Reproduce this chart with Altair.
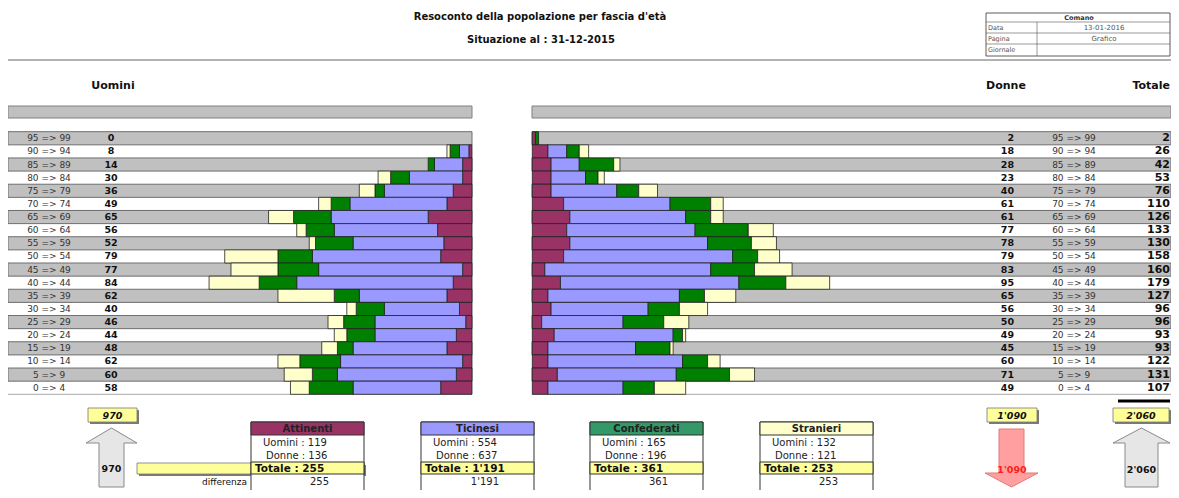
import altair as alt
import pandas as pd

FONT = "DejaVu Sans"

# ---------------- data ----------------
ages = ["95 => 99", "90 => 94", "85 => 89", "80 => 84", "75 => 79", "70 => 74",
        "65 => 69", "60 => 64", "55 => 59", "50 => 54", "45 => 49", "40 => 44",
        "35 => 39", "30 => 34", "25 => 29", "20 => 24", "15 => 19", "10 => 14",
        "5 => 9", "0 => 4"]
categories = ["Attinenti", "Ticinesi", "Confederati", "Stranieri"]

men_attinenti = [0, 1, 3, 3, 6, 8, 14, 11, 9, 10, 3, 6, 8, 4, 2, 5, 8, 3, 5, 10]
men_ticinesi = [0, 3, 9, 17, 22, 31, 31, 33, 29, 41, 46, 50, 28, 24, 29, 26, 30, 39, 38, 28]
men_confederati = [0, 3, 2, 6, 3, 6, 12, 9, 12, 11, 13, 12, 8, 9, 10, 9, 5, 13, 8, 14]
men_stranieri = [0, 1, 0, 4, 5, 4, 8, 3, 2, 17, 15, 16, 18, 3, 5, 4, 5, 7, 9, 6]

women_attinenti = [1, 5, 6, 6, 6, 10, 12, 11, 12, 10, 4, 9, 5, 6, 3, 7, 5, 5, 8, 5]
women_ticinesi = [0, 6, 9, 11, 21, 34, 37, 41, 44, 54, 53, 57, 42, 31, 26, 38, 28, 43, 38, 24]
women_confederati = [1, 4, 11, 4, 7, 13, 8, 17, 14, 8, 14, 15, 8, 10, 13, 3, 11, 8, 17, 10]
women_stranieri = [0, 3, 2, 2, 6, 4, 4, 8, 8, 7, 12, 14, 10, 9, 8, 1, 1, 4, 8, 10]

title = "Resoconto della popolazione per fascia d'età"
subtitle = "Situazione al : 31-12-2015"

# ---------------- styles ----------------
cat_colors = ["#993366", "#9999FF", "#008000", "#FFFFCC"]
header_colors = ["#993366", "#9999FF", "#339966", "#FFFFCC"]
YELLOW = "#FFFF99"

W, H = 1163, 482
OX, OY = 8, 8
N = len(ages)
ROW_TOP, ROW_BOTTOM = 131.7, 394.3
PX_PER_PERSON = 3.13
MEN_AXIS, WOMEN_AXIS = 472.0, 532.3


def fmt(n):
    return f"{n:,}".replace(",", "'")


def sx():
    return alt.Scale(domain=[OX, OX + W], range=[0, W], nice=False, zero=False)


def sy():
    return alt.Scale(domain=[OY, OY + H], range=[0, H], nice=False, zero=False)


def srow():
    return alt.Scale(domain=[0, N], range=[ROW_TOP - OY, ROW_BOTTOM - OY], nice=False, zero=False)


def smen():
    return alt.Scale(domain=[0, 100], range=[MEN_AXIS - OX, MEN_AXIS - OX - 100 * PX_PER_PERSON],
                     nice=False, zero=False)


def swomen():
    return alt.Scale(domain=[0, 100], range=[WOMEN_AXIS - OX, WOMEN_AXIS - OX + 100 * PX_PER_PERSON],
                     nice=False, zero=False)


def rects(items, **mk):
    df = pd.DataFrame(items, columns=["x", "x2", "y", "y2"])
    return alt.Chart(df).mark_rect(**mk).encode(
        x=alt.X("x:Q", scale=sx(), axis=None), x2="x2:Q",
        y=alt.Y("y:Q", scale=sy(), axis=None), y2="y2:Q")


def hrules(items, **mk):
    df = pd.DataFrame(items, columns=["x", "x2", "y"])
    return alt.Chart(df).mark_rule(**mk).encode(
        x=alt.X("x:Q", scale=sx(), axis=None), x2="x2:Q",
        y=alt.Y("y:Q", scale=sy(), axis=None))


def vrules(items, **mk):
    df = pd.DataFrame(items, columns=["x", "y", "y2"])
    return alt.Chart(df).mark_rule(**mk).encode(
        x=alt.X("x:Q", scale=sx(), axis=None),
        y=alt.Y("y:Q", scale=sy(), axis=None), y2="y2:Q")


def texts(items, **mk):
    mk.setdefault("font", FONT)
    mk.setdefault("color", "#111")
    df = pd.DataFrame(items, columns=["x", "y", "t"])
    return alt.Chart(df).mark_text(**mk).encode(
        x=alt.X("x:Q", scale=sx(), axis=None),
        y=alt.Y("y:Q", scale=sy(), axis=None),
        text="t:N")


def row_texts(values, xpos, **mk):
    mk.setdefault("font", FONT)
    mk.setdefault("color", "#111")
    df = pd.DataFrame({"r": [i + 0.5 for i in range(N)], "t": [str(v) for v in values], "x": xpos})
    return alt.Chart(df).mark_text(**mk).encode(
        x=alt.X("x:Q", scale=sx(), axis=None),
        y=alt.Y("r:Q", scale=srow(), axis=None),
        text="t:N")


def polygon(pts, color, width=1):
    df = pd.DataFrame({"x": [p[0] for p in pts], "y": [p[1] for p in pts], "o": list(range(len(pts)))})
    return alt.Chart(df).mark_line(color=color, strokeWidth=width).encode(
        x=alt.X("x:Q", scale=sx(), axis=None),
        y=alt.Y("y:Q", scale=sy(), axis=None),
        order="o:Q")


def tri(pts, color):
    df = pd.DataFrame(pts, columns=["x", "y", "y2"])
    return alt.Chart(df).mark_area(color=color, opacity=1, orient="vertical").encode(
        x=alt.X("x:Q", scale=sx(), axis=None),
        y=alt.Y("y:Q", scale=sy(), axis=None), y2="y2:Q")


# ---------------- tables built from the data ----------------
men = [men_attinenti, men_ticinesi, men_confederati, men_stranieri]
women = [women_attinenti, women_ticinesi, women_confederati, women_stranieri]

men_tot = [sum(a[i] for a in men) for i in range(N)]
women_tot = [sum(a[i] for a in women) for i in range(N)]
row_tot = [m + w for m, w in zip(men_tot, women_tot)]
men_all, women_all = sum(men_tot), sum(women_tot)
grand = men_all + women_all


def stacked(groups):
    out = []
    for i in range(N):
        cum = 0
        for cat, arr in zip(categories, groups):
            v = arr[i]
            if v > 0:
                out.append({"row": i, "row2": i + 1, "cat": cat, "start": cum, "end": cum + v})
            cum += v
    return pd.DataFrame(out)


color_enc = alt.Color("cat:N", scale=alt.Scale(domain=categories, range=cat_colors), legend=None)

bars_men = alt.Chart(stacked(men)).mark_rect(stroke="#222", strokeWidth=0.8).encode(
    x=alt.X("start:Q", scale=smen(), axis=None), x2="end:Q",
    y=alt.Y("row:Q", scale=srow(), axis=None), y2="row2:Q", color=color_enc)

bars_women = alt.Chart(stacked(women)).mark_rect(stroke="#222", strokeWidth=0.8).encode(
    x=alt.X("start:Q", scale=swomen(), axis=None), x2="end:Q",
    y=alt.Y("row:Q", scale=srow(), axis=None), y2="row2:Q", color=color_enc)

# row stripes
stripe_df = pd.DataFrame([{"r": i, "r2": i + 1, "x": x0, "x2": x1}
                          for i in range(0, N, 2) for (x0, x1) in [(8, 472), (532, 1171)]])
stripes = alt.Chart(stripe_df).mark_rect(fill="#C0C0C0", stroke="#6E6E6E", strokeWidth=1).encode(
    x=alt.X("x:Q", scale=sx(), axis=None), x2="x2:Q",
    y=alt.Y("r:Q", scale=srow(), axis=None), y2="r2:Q")
bottom_line = hrules([(8, 472, ROW_BOTTOM), (532, 1171, ROW_BOTTOM)], color="#A8A8A8", strokeWidth=1)

layers = []

# header area
layers.append(hrules([(8, 1171, 60)], color="#666", strokeWidth=1.2))
layers.append(texts([(540, 17, title), (541, 40, subtitle)], fontSize=10, fontWeight="bold"))
layers.append(rects([(986, 1170, 13, 56)], fill="white", stroke="#333", strokeWidth=0.8))
layers.append(hrules([(986, 1170, 22), (986, 1170, 33), (986, 1170, 44)], color="#555", strokeWidth=0.6))
layers.append(vrules([(1037, 22, 56)], color="#555", strokeWidth=0.6))
layers.append(texts([(1079, 17.5, "Comano")], fontSize=6.5, fontWeight="bold", color="#333"))
layers.append(texts([(988, 27.8, "Data"), (988, 38.8, "Pagina"), (988, 50, "Giornale")],
                    fontSize=6.5, align="left", color="#555"))
layers.append(texts([(1104, 27.8, "13-01-2016"), (1104, 38.8, "Grafico")], fontSize=7, color="#555"))

layers.append(texts([(113, 86, "Uomini"), (1006, 86, "Donne")], fontSize=11, fontWeight="bold"))
layers.append(texts([(1170, 86, "Totale")], fontSize=11, fontWeight="bold", align="right"))
layers.append(rects([(8, 472, 106, 118), (532, 1171, 106, 118)], fill="#C0C0C0", stroke="#808080", strokeWidth=1))

# pyramid
layers += [stripes, bottom_line, bars_men, bars_women]
layers.append(row_texts(ages, 49, fontSize=9, color="#333"))
layers.append(row_texts(men_tot, 111, fontSize=9.5, fontWeight="bold"))
layers.append(row_texts(women_tot, 1014, fontSize=9.5, fontWeight="bold", align="right"))
layers.append(row_texts(ages, 1074, fontSize=9, color="#333"))
layers.append(row_texts(row_tot, 1170, fontSize=11, fontWeight="bold", align="right"))
layers.append(hrules([(1118, 1170, 401)], color="#000", strokeWidth=3))

# bottom summary: shadows and yellow boxes
layers.append(rects([(90, 139, 410, 424), (989, 1039, 410, 424), (1115, 1171, 410, 424), (139, 366, 465, 476)],
                    fill="#7A7A7A"))
layers.append(rects([(88, 137, 408, 422), (987, 1037, 408, 422), (1113, 1169, 408, 422), (137, 364, 463, 474)],
                    fill=YELLOW, stroke="#777", strokeWidth=0.8))
layers.append(texts([(112.5, 415.5, fmt(men_all)), (1012, 415.5, fmt(women_all)), (1141, 415.5, fmt(grand))],
                    fontSize=9.5, fontWeight="bold", fontStyle="italic"))

# arrows
GRAY_FILL, GRAY_LINE = "#E6E6E6", "#8A8A8A"
layers.append(rects([(99, 124, 442, 487), (1125, 1158, 442, 487)], fill=GRAY_FILL))
layers.append(tri([(86, 443, 443), (111.5, 428, 443), (137, 443, 443)], GRAY_FILL))
layers.append(tri([(1113, 443, 443), (1141.5, 428, 443), (1170, 443, 443)], GRAY_FILL))
layers.append(polygon([(111.5, 428), (137, 443), (124, 443), (124, 487), (99, 487), (99, 443), (86, 443),
                       (111.5, 428)], GRAY_LINE))
layers.append(polygon([(1141.5, 428), (1170, 443), (1158, 443), (1158, 487), (1125, 487), (1125, 443),
                       (1113, 443), (1141.5, 428)], GRAY_LINE))
RED_FILL, RED_LINE = "#FF9F9F", "#E07A7A"
layers.append(rects([(999, 1024, 429, 474)], fill=RED_FILL))
layers.append(tri([(985, 473, 473), (1011.5, 473, 487), (1038, 473, 473)], RED_FILL))
layers.append(polygon([(999, 429), (1024, 429), (1024, 473), (1038, 473), (1011.5, 487), (985, 473),
                       (999, 473), (999, 429)], RED_LINE))
layers.append(texts([(111.5, 469, fmt(men_all)), (1141.5, 470, fmt(grand))], fontSize=9.5, fontWeight="bold"))
layers.append(texts([(1012, 470, fmt(women_all))], fontSize=9.5, fontWeight="bold", color="#FF2020"))
layers.append(texts([(247, 482, "differenza")], fontSize=9, align="right"))

# category tables
lefts = [251, 421, 590, 760]
TW = 113
layers.append(rects([(l, l + TW, 422, 500) for l in lefts], fill="white", stroke="#333", strokeWidth=1))
hdr_df = pd.DataFrame({"x": lefts, "x2": [l + TW for l in lefts], "y": 422, "y2": 435, "c": header_colors})
layers.append(alt.Chart(hdr_df).mark_rect(stroke="#333", strokeWidth=1).encode(
    x=alt.X("x:Q", scale=sx(), axis=None), x2="x2:Q",
    y=alt.Y("y:Q", scale=sy(), axis=None), y2="y2:Q",
    fill=alt.Fill("c:N", scale=None)))
layers.append(rects([(l, l + TW, 462, 474) for l in lefts], fill=YELLOW, stroke="#333", strokeWidth=1))
cat_m = [sum(a) for a in men]
cat_w = [sum(a) for a in women]
layers.append(texts([(l + TW / 2, 428.8, c) for l, c in zip(lefts, categories)],
                    fontSize=10, fontWeight="bold", color="#222"))
layers.append(texts([(l + 12, 442.7, f"Uomini : {m}") for l, m in zip(lefts, cat_m)] +
                    [(l + 15, 455.5, f"Donne : {w}") for l, w in zip(lefts, cat_w)],
                    fontSize=10, align="left", color="#222"))
layers.append(texts([(l + 4, 468.5, f"Totale : {fmt(m + w)}") for l, m, w in zip(lefts, cat_m, cat_w)],
                    fontSize=10.5, fontWeight="bold", align="left"))
layers.append(texts([(l + 78, 481.5, fmt(m + w)) for l, m, w in zip(lefts, cat_m, cat_w)],
                    fontSize=10, align="right", color="#222"))

chart = alt.layer(*layers).resolve_scale(x="independent", y="independent").properties(
    width=W, height=H, padding=0, autosize=alt.AutoSizeParams(type="none"),
    background="white").configure_view(stroke=None)

chart.save("out.html", embed_options={"renderer": "svg", "actions": False})
